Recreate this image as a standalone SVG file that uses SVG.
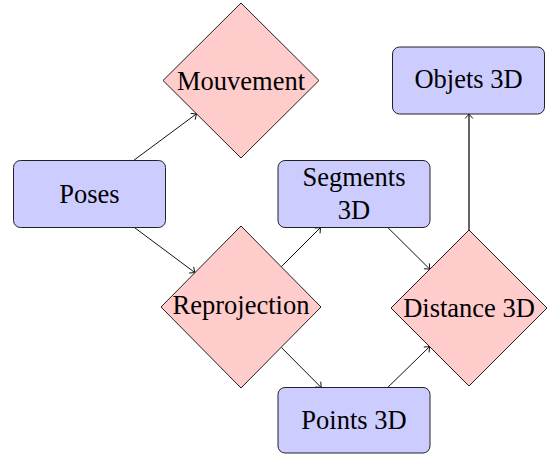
<svg xmlns="http://www.w3.org/2000/svg" width="548" height="454" viewBox="0 0 548 454">
<style>
.box{fill:#ccccff;stroke:#222;stroke-width:1}
.dia{fill:#ffcccc;stroke:#222;stroke-width:1}
.lbl{font-family:"Liberation Serif","Times New Roman",serif;font-size:26.5px;fill:#000;text-anchor:middle}
.edge{stroke:#111;stroke-width:1;fill:none;marker-end:url(#arr)}
</style>
<defs>
<marker id="arr" markerUnits="userSpaceOnUse" markerWidth="12" markerHeight="12" refX="0" refY="0" viewBox="-6 -6 12 12" orient="auto">
<path d="M-4.2,-3.6 Q-1.2,-1 0,0 Q-1.2,1 -4.2,3.6" fill="none" stroke="#111" stroke-width="1" stroke-linecap="round"/>
</marker>
</defs>
<g id="edges">
<line class="edge" x1="133.5" y1="160.5" x2="196.5" y2="113.8"/>
<line class="edge" x1="134.4" y1="227.5" x2="194.9" y2="272.6"/>
<line class="edge" x1="281.2" y1="266.8" x2="320.5" y2="227.5"/>
<line class="edge" x1="387.8" y1="227.5" x2="429.8" y2="269.2"/>
<line class="edge" x1="281.2" y1="347.3" x2="321.2" y2="387.5"/>
<line class="edge" x1="387.7" y1="387.5" x2="429.6" y2="346.6"/>
<line class="edge" x1="469" y1="230" x2="469" y2="114" style="stroke-width:1.3"/>
</g>
<g id="poses">
<rect class="box" x="13.5" y="160.5" width="152" height="67" rx="7"/>
<text class="lbl" x="89.5" y="203">Poses</text>
</g>
<g id="mouvement">
<polygon class="dia" points="241,3 319,80.5 241,158 163,80.5"/>
<text class="lbl" x="241" y="89.5">Mouvement</text>
</g>
<g id="objets">
<rect class="box" x="392.5" y="47" width="152" height="67" rx="7"/>
<text class="lbl" x="468.5" y="87.5">Objets 3D</text>
</g>
<g id="segments">
<rect class="box" x="278" y="160.5" width="152" height="67" rx="7"/>
<text class="lbl" x="354" y="186">Segments</text>
<text class="lbl" x="354" y="219">3D</text>
</g>
<g id="reprojection">
<polygon class="dia" points="241,226 321,307 241,388 161,307"/>
<text class="lbl" x="241" y="314">Reprojection</text>
</g>
<g id="distance">
<polygon class="dia" points="469,230 547,308 469,386 391,308"/>
<text class="lbl" x="469" y="317">Distance 3D</text>
</g>
<g id="points">
<rect class="box" x="278" y="387.5" width="152" height="65.5" rx="7"/>
<text class="lbl" x="354" y="429">Points 3D</text>
</g>
</svg>
